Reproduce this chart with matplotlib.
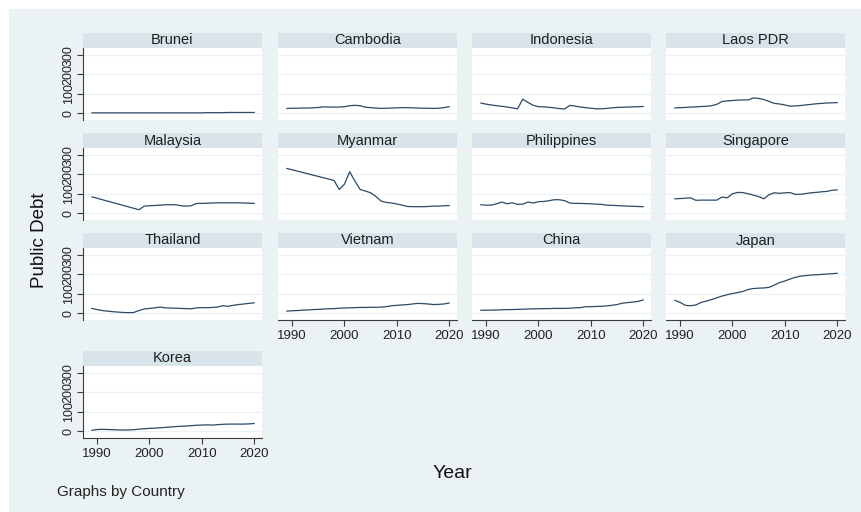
import matplotlib.pyplot as plt
from matplotlib.patches import Rectangle

plt.rcParams['font.family'] = ['Liberation Sans', 'DejaVu Sans']

years = list(range(1989, 2021))

brunei = [1, 1, 1, 1, 1, 1, 1, 1, 1, 1, 1, 1, 1, 1, 1, 1, 1, 1, 1, 1,
          1, 1, 2, 2, 2, 2, 3, 3, 3, 3, 3, 3]
cambodia = [24, 25, 25, 26, 26, 27, 29, 32, 31, 31, 31, 33, 38, 40, 38, 30,
            28, 26, 24, 25, 26, 27, 28, 28, 27, 26, 25, 25, 24, 25, 28, 33]
indonesia = [52, 46, 42, 38, 35, 31, 27, 22, 72, 55, 40, 33, 32, 30, 27, 23,
             21, 40, 36, 31, 28, 25, 22, 22, 24, 27, 29, 30, 31, 32, 33, 34]
laos = [26, 28, 29, 31, 32, 34, 35, 38, 45, 60, 63, 65, 67, 68, 68, 78,
        76, 70, 60, 50, 47, 42, 36, 37, 39, 42, 45, 48, 50, 52, 53, 54]
malaysia_years = [1989] + list(range(1998, 2021))
malaysia = [84, 17, 36, 38, 39, 41, 43, 43, 43, 38, 36, 38, 50, 50, 51, 52,
            53, 53, 53, 53, 53, 52, 51, 50]
myanmar_years = [1989] + list(range(1998, 2021))
myanmar = [231, 169, 122, 150, 214, 165, 122, 114, 105, 86, 62, 55, 52, 47,
           41, 34, 33, 33, 33, 34, 36, 36, 38, 38]
philippines = [43, 41, 41, 48, 57, 48, 53, 45, 46, 57, 52, 59, 60, 64, 69, 69,
               64, 52, 50, 50, 49, 48, 46, 45, 41, 40, 39, 37, 36, 35, 34, 33]
singapore = [74, 75, 77, 79, 66, 67, 67, 67, 67, 83, 79, 100, 107, 106, 100, 93,
             85, 74, 95, 105, 102, 105, 106, 97, 97, 101, 105, 107, 110, 112, 118, 120]
thailand = [24, 18, 13, 10, 7, 5, 3, 2, 3, 13, 21, 24, 27, 31, 27, 26,
            25, 24, 23, 22, 27, 28, 28, 29, 31, 38, 35, 40, 44, 47, 50, 53]
vietnam = [10, 12, 13, 15, 16, 18, 19, 21, 22, 23, 25, 26, 27, 28, 29, 29,
           30, 30, 31, 33, 38, 40, 42, 44, 47, 50, 49, 47, 44, 45, 47, 52]
china = [14, 15, 15, 16, 17, 18, 18, 19, 20, 21, 22, 22, 23, 23, 24, 24,
         24, 25, 27, 28, 33, 33, 34, 35, 37, 40, 44, 51, 54, 57, 60, 68]
japan = [66, 55, 40, 38, 42, 55, 62, 70, 79, 88, 95, 101, 106, 112, 122, 127,
         129, 130, 133, 145, 158, 166, 176, 185, 191, 194, 197, 198, 200, 202, 204, 206]
korea = [4, 8, 9, 8, 7, 6, 5, 6, 7, 10, 12, 14, 15, 17, 19, 21,
         23, 25, 26, 28, 30, 31, 32, 31, 33, 35, 36, 36, 36, 36, 37, 39]

panels = [
    ('Brunei', years, brunei),
    ('Cambodia', years, cambodia),
    ('Indonesia', years, indonesia),
    ('Laos PDR', years, laos),
    ('Malaysia', malaysia_years, malaysia),
    ('Myanmar', myanmar_years, myanmar),
    ('Philippines', years, philippines),
    ('Singapore', years, singapore),
    ('Thailand', years, thailand),
    ('Vietnam', years, vietnam),
    ('China', years, china),
    ('Japan', years, japan),
    ('Korea', years, korea),
]

W, H = 862, 512
bg = '#eaf2f3'
strip = '#d8e4ea'
line_col = '#2c4a66'
axis_col = '#3c3c3c'

fig = plt.figure(figsize=(W / 100, H / 100), dpi=100)
fig.add_artist(Rectangle((9 / W, 0), 1, 1 - 9 / H, transform=fig.transFigure,
                         facecolor=bg, edgecolor='none', zorder=-5))


def box(x, y, w, h):
    return [x / W, 1 - (y + h) / H, w / W, h / H]


col_x = [83, 278, 472, 666]
row_top = [33, 133, 233, 351]
pw, hh, ph = 179, 15, 72

for i, (name, xs, ys) in enumerate(panels):
    r, c = divmod(i, 4)
    x0, y0 = col_x[c], row_top[r]

    hd = fig.add_axes(box(x0, y0, pw, hh))
    hd.set_facecolor(strip)
    hd.set_xticks([])
    hd.set_yticks([])
    for s in hd.spines.values():
        s.set_visible(False)
    hd.text(0.5, 0.5, name, ha='center', va='center', fontsize=10.5,
            color='#1e1e1e', transform=hd.transAxes)

    ax = fig.add_axes(box(x0, y0 + hh, pw, ph))
    ax.set_facecolor('white')
    ax.plot(xs, ys, color=line_col, lw=0.9)
    ax.set_xlim(1987.3, 2021.5)
    ax.set_ylim(-36, 337)
    ax.set_yticks([0, 100, 200, 300])
    ax.set_xticks([1990, 2000, 2010, 2020])
    ax.grid(axis='y', color='#edf1f4', lw=0.9)
    ax.set_axisbelow(True)
    for s in ax.spines.values():
        s.set_visible(False)
        s.set_color(axis_col)
        s.set_linewidth(0.8)

    bottom = r == 3 or (r == 2 and c >= 1)
    if c == 0:
        ax.spines['left'].set_visible(True)
        ax.tick_params(axis='y', length=4, width=0.8, color=axis_col, pad=2,
                       labelsize=9, labelcolor='#222222')
        for lab in ax.get_yticklabels():
            lab.set_rotation(90)
            lab.set_va('center')
    else:
        ax.tick_params(axis='y', length=0, labelleft=False)
    if bottom:
        ax.spines['bottom'].set_visible(True)
        ax.tick_params(axis='x', length=4, width=0.8, color=axis_col, pad=3,
                       labelsize=9.5, labelcolor='#222222')
    else:
        ax.tick_params(axis='x', length=0, labelbottom=False)

fig.text(40 / W, 1 - 240 / H, 'Public Debt', rotation=90, ha='center', va='center',
         fontsize=13.5, color='#111111')
fig.text(452 / W, 1 - 473 / H, 'Year', ha='center', va='center',
         fontsize=14, color='#111111')
fig.text(57 / W, 1 - 492 / H, 'Graphs by Country', ha='left', va='center',
         fontsize=11, color='#222222')

fig.savefig('out.png', dpi=100)
